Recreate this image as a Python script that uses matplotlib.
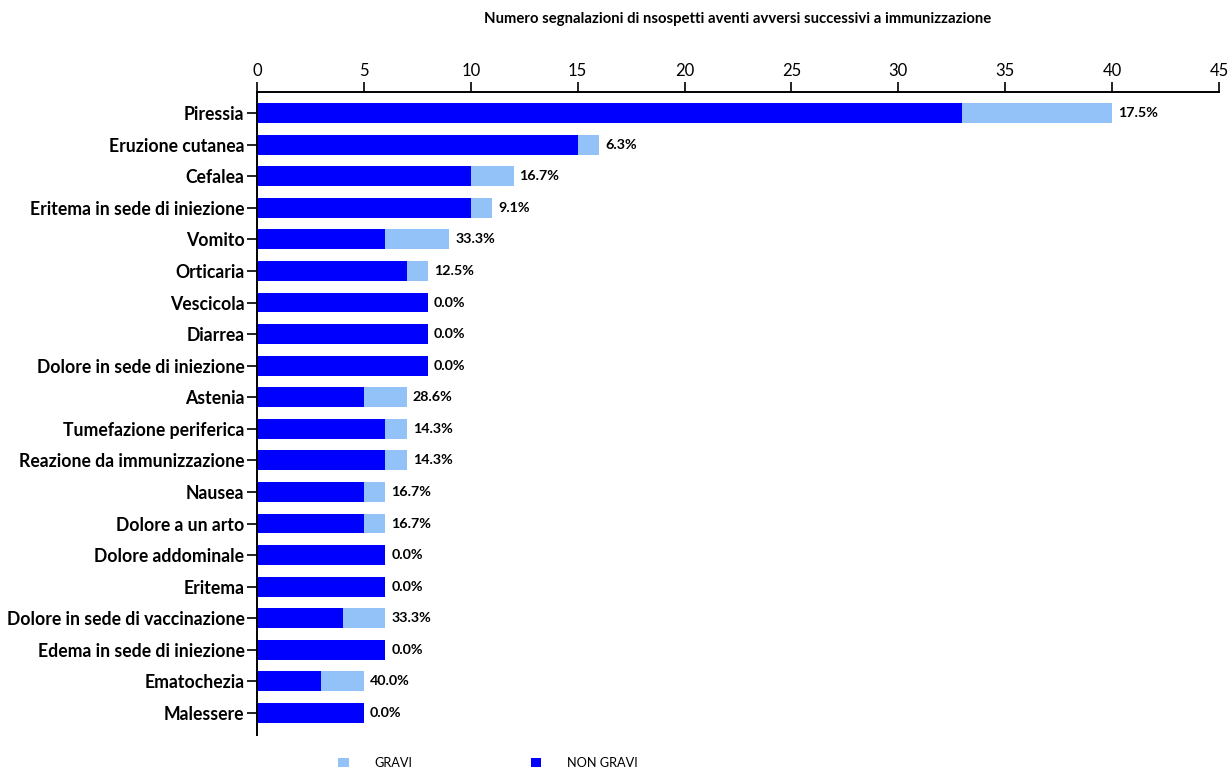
import matplotlib.pyplot as plt
import numpy as np
from decimal import Decimal, ROUND_HALF_UP

plt.rcParams['font.family'] = ['Lato', 'DejaVu Sans']

categorie = ["Piressia", "Eruzione cutanea", "Cefalea", "Eritema in sede di iniezione",
             "Vomito", "Orticaria", "Vescicola", "Diarrea", "Dolore in sede di iniezione",
             "Astenia", "Tumefazione periferica", "Reazione da immunizzazione", "Nausea",
             "Dolore a un arto", "Dolore addominale", "Eritema",
             "Dolore in sede di vaccinazione", "Edema in sede di iniezione",
             "Ematochezia", "Malessere"]
non_gravi = [33, 15, 10, 10, 6, 7, 8, 8, 8, 5, 6, 6, 5, 5, 6, 6, 4, 6, 3, 5]
gravi = [7, 1, 2, 1, 3, 1, 0, 0, 0, 2, 1, 1, 1, 1, 0, 0, 2, 0, 2, 0]

ng = np.array(non_gravi)
g = np.array(gravi)
tot = ng + g
y = np.arange(len(categorie))

def perc(a, b):
	# arrotondamento 0.05 -> 0.1 come in Excel
	v = Decimal(100 * int(a)) / Decimal(int(b))
	return str(v.quantize(Decimal("0.1"), rounding=ROUND_HALF_UP)) + "%"

fig = plt.figure(figsize=(12.29, 7.69), dpi=100)
ax = fig.add_axes([0.2091, 0.0442, 0.7828, 0.8362])

ax.barh(y, ng, height=0.63, color="#0000FF", label="NON GRAVI")
ax.barh(y, g, left=ng, height=0.63, color="#93C2F9", label="GRAVI")

for i in range(len(y)):
	ax.text(tot[i] + 0.28, y[i], perc(g[i], tot[i]), va="center", ha="left",
	        fontsize=10.3, fontweight="bold")

ax.set_xlim(0, 45)
ax.set_ylim(19.7, -0.67)
ax.set_xticks(np.arange(0, 46, 5))
ax.xaxis.tick_top()
ax.set_yticks(y)
ax.set_yticklabels(categorie, fontsize=12.7, fontweight="bold")
ax.tick_params(axis="x", labelsize=12, length=7, width=1.2, pad=2)
ax.tick_params(axis="y", length=7, width=1.2, pad=2)
for s in ["right", "bottom"]:
	ax.spines[s].set_visible(False)
for s in ["top", "left"]:
	ax.spines[s].set_linewidth(1.4)

fig.text(0.6, 0.975, "Numero segnalazioni di nsospetti aventi avversi successivi a immunizzazione",
         ha="center", va="center", fontsize=10.7, fontweight="bold")

h, l = ax.get_legend_handles_labels()
fig.legend(h[::-1], l[::-1], loc="center", bbox_to_anchor=(0.397, 0.008), ncol=2,
           frameon=False, fontsize=9.2, handlelength=0.8, handleheight=0.8,
           columnspacing=9.3, handletextpad=2.0)

fig.savefig("out.png")
plt.close()
